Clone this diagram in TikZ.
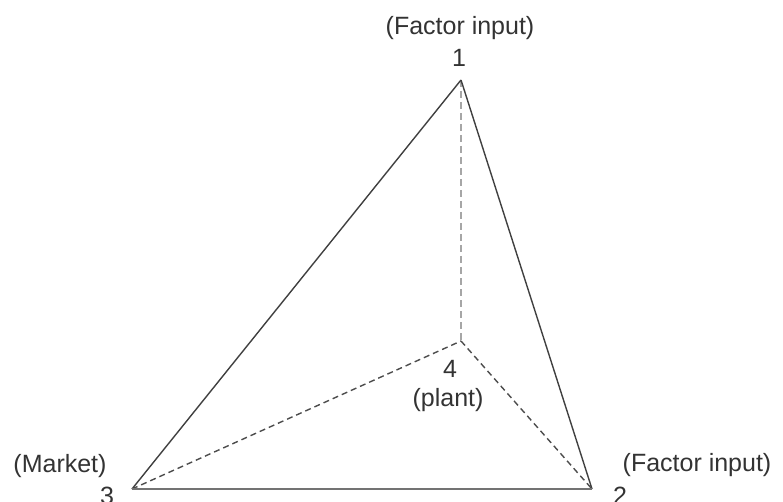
\documentclass[tikz,border=0pt]{standalone}
\usepackage{fontspec}
\setmainfont{Liberation Sans}
\usepackage{tikz}
\usetikzlibrary{positioning}

\begin{document}
\begin{tikzpicture}[
    x=1pt, y=-1pt,
    lbl/.style={font=\fontsize{25}{28}\selectfont, inner sep=0pt, text=black!80},
    edge/.style={draw=black!75, line width=1.4pt},
    base/.style={draw=black!55, line width=2.4pt},
    hidden/.style={draw=black!70, line width=1.4pt, dash pattern=on 6pt off 4pt},
    axis/.style={draw=black!35, line width=2.4pt, dash pattern=on 7pt off 4pt},
]
    \useasboundingbox (0,0) rectangle (783,502);

    % corners of the location triangle
    \coordinate (v1) at (461,80);
    \coordinate (v2) at (592,489);
    \coordinate (v3) at (132,489);
    \coordinate (v4) at (461,341);

    % labels
    \node[lbl] (n1) at (459,58) {1};
    \node[lbl] (f1) at (460,28) {(Factor input)};
    \node[lbl] (n2) at (620,496) {2};
    \node[lbl] (f2) at (697,465) {(Factor input)};
    \node[lbl] (n3) at (107,496) {3};
    \node[lbl] (mk) at (60,466) {(Market)};
    \node[lbl] (n4) at (450,369) {4};
    \node[lbl] (pl) at (448,400) {(plant)};

    % edges
    \draw[axis] (v1) -- (v4);
    \draw[hidden] (v3) -- (v4);
    \draw[hidden] (v4) -- (v2);
    \draw[edge] (v3) -- (v1);
    \draw[edge] (v1) -- (v2);
    \draw[base] (v3) -- (v2);
\end{tikzpicture}
\end{document}
